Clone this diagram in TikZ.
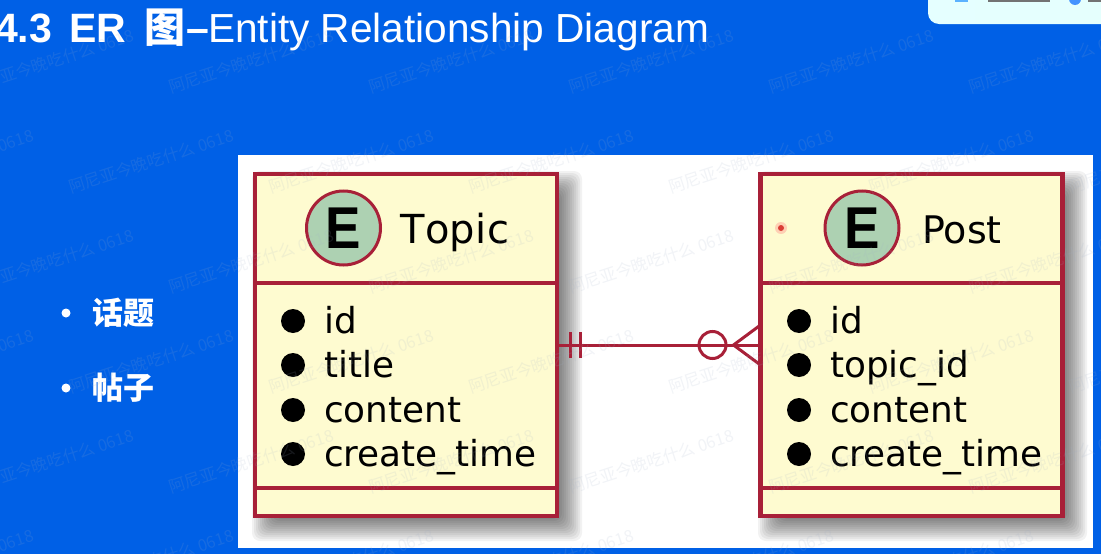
\documentclass[tikz,border=0pt]{standalone}
\usepackage{fontspec}
\setmainfont{DejaVu Sans}
\newfontfamily\cjk{Noto Sans CJK SC}
\newfontfamily\head{Liberation Sans}
\usetikzlibrary{calc}
\definecolor{bgblue}{RGB}{0,96,230}
\definecolor{ered}{RGB}{168,32,56}
\definecolor{ecream}{RGB}{254,251,208}
\definecolor{egreen}{RGB}{173,209,178}
\definecolor{wmk}{RGB}{160,175,200}
\tikzset{
  x=1pt,y=-1pt,
  entity/.style={draw=ered,fill=ecream,line width=4.3pt,minimum width=302pt,minimum height=342pt,inner sep=0pt,outer sep=0pt},
  divider/.style={draw=ered,line width=4.6pt},
  badge/.style={circle,draw=ered,fill=egreen,line width=3pt,minimum size=74pt,inner sep=0pt,text=black},
  badgeletter/.style={inner sep=0pt,text=black,xscale=.9,font=\head\fontsize{59}{59}\selectfont\bfseries},
  etitle/.style={font=\fontsize{38}{38}\selectfont,text=black,anchor=base west,inner sep=0pt},
  attr/.style={font=\fontsize{35.8}{35.8}\selectfont,text=black,anchor=base west,inner sep=0pt},
  blackdot/.style={circle,fill=black,minimum size=24pt,inner sep=0pt},
  rel/.style={draw=ered,line width=3pt},
  whitedot/.style={circle,fill=white,minimum size=9pt,inner sep=0pt},
  cn/.style={font=\cjk\fontsize{31}{31}\selectfont\bfseries,text=white,anchor=west,inner sep=0pt},
  wmark/.style={font=\cjk\fontsize{16.5}{16.5}\selectfont,rotate=18,anchor=west,inner sep=0pt,text=wmk,opacity=.14},
  hbold/.style={font=\head\fontsize{41}{41}\selectfont\bfseries,text=white,anchor=base west,inner sep=0pt},
  hlight/.style={font=\head\fontsize{40.6}{40.6}\selectfont,text=white,anchor=base west,inner sep=0pt},
}
\newcommand{\softshadow}[4]{%
  \foreach \e in {-14,-12,...,14}{
    \fill[black,opacity=.05,rounded corners=8pt] (#1+11-\e,#2+11-\e) rectangle (#3+11+\e,#4+11+\e);
  }}
\begin{document}
\begin{tikzpicture}
\useasboundingbox (0,0) rectangle (1101,554);
\clip (0,0) rectangle (1101,554);
\fill[bgblue] (0,0) rectangle (1101,554);
% top-right card
\shade[left color=white!90!cyan,right color=green!8!cyan!10!white,rounded corners=11pt] (928,-20) rectangle (1120,24);
\fill[blue!60!cyan,opacity=.7] (1075,-1) circle (6pt);
\fill[black!55] (988,0) rectangle (1050,2);
\fill[blue!50!cyan,opacity=.6] (955,0) rectangle (968,2);
\fill[black!55] (1088,0) rectangle (1101,2);
% heading
\node[hbold] (h1) at (-5,42) {4.3\hspace{6pt} ER\hspace{7pt} \cjk 图\head{}\hspace{1pt}–};
\node[hlight] (h2) at (208,42) {Entity Relationship Diagram};
% list
\node[whitedot] (b1) at (66,313) {};
\node[whitedot] (b2) at (66,388) {};
\node[cn] (l1) at (92,313) {话题};
\node[cn] (l2) at (92,388) {帖子};
% panel
\fill[white] (238,155) rectangle (1093,548);
% shadows
\softshadow{255}{174}{557}{516}
\softshadow{761}{174}{1062}{516}
% entities
\node[entity] (topic) at (406,345) {};
\node[entity] (post) at (911.5,345) {};
\draw[divider] (topic.west |- 0,283) -- (topic.east |- 0,283);
\draw[divider] (topic.west |- 0,488) -- (topic.east |- 0,488);
\draw[divider] (post.west |- 0,283) -- (post.east |- 0,283);
\draw[divider] (post.west |- 0,488) -- (post.east |- 0,488);
\node[badge] (te) at (343.5,228) {};
\node[badge] (pe) at (862,228) {};
\node[badgeletter] (tel) at (te.center) {E};
\node[badgeletter] (pel) at (pe.center) {E};
\node[etitle,font=\fontsize{40}{40}\addfontfeature{Kerning=Off,LetterSpace=1}\selectfont] (tt) at (400,243) {Topic};
\node[etitle] (pt) at (922,243) {Post};
\fill[red!50,opacity=.35] (781,228) circle (6pt);
\fill[red!80!black,opacity=.7] (781,228) circle (3pt);
% attributes
\foreach \n/\y/\t in {a/333/id,b/377/title,c/422/content,d/466/create\_time}{
  \node[blackdot] (td\n) at (293,\y-12) {};
  \node[attr] (ta\n) at (324,\y) {\t};
}
\foreach \n/\y/\t in {a/333/id,b/377/topic\_id,c/422/content,d/466/create\_time}{
  \node[blackdot] (pd\n) at (799,\y-12) {};
  \node[attr] (pa\n) at (830,\y) {\t};
}
% relation
\draw[rel] (topic.east) -- (post.west);
\draw[rel] ($(topic.east)+(13,-13)$) -- ($(topic.east)+(13,13)$);
\draw[rel] ($(topic.east)+(23,-13)$) -- ($(topic.east)+(23,13)$);
\node[circle,rel,minimum size=27pt,inner sep=0pt] (om) at (712.5,345) {};
\draw[rel] ($(post.west)+(0,-20)$) -- ($(post.west)+(-27,0)$) -- ($(post.west)+(0,20)$);
% watermarks
\foreach \r/\y/\o in {0/88/169,1/188/69,2/288/169,3/388/69,4/488/169,5/588/69}{
  \foreach \k in {-1,0,...,5}{
    \node[wmark] (w\r\k) at (\o+200*\k,\y) {阿尼亚今晚吃什么 0618};
  }
}
\end{tikzpicture}
\end{document}
